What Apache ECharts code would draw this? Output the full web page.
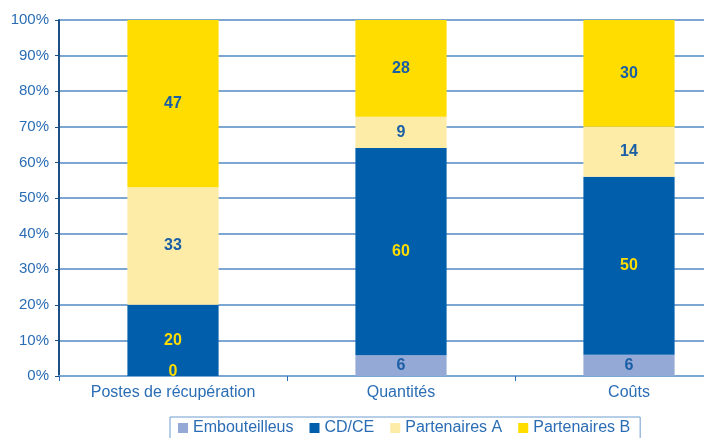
<!DOCTYPE html>
<html>
<head>
<meta charset="utf-8">
<script src="https://cdn.jsdelivr.net/npm/echarts@6/dist/echarts.min.js"></script>
<style>
  html, body { margin: 0; padding: 0; background: #fff; }
  #chart { width: 704px; height: 438px; }
</style>
</head>
<body>
<div id="chart"></div>
<script>
// categories and raw values (shown as labels); bars are stacked to 100%
const categories = ['Postes de récupération', 'Quantités', 'Coûts'];
const seriesNames = ['Embouteilleus', 'CD/CE', 'Partenaires A', 'Partenaires B'];
const embouteilleus = [0, 6, 6];
const cdce = [20, 60, 50];
const partenairesA = [33, 9, 14];
const partenairesB = [47, 28, 30];
const yTicks = [0, 10, 20, 30, 40, 50, 60, 70, 80, 90, 100];

const colors = ['#94A9D6', '#005EAA', '#FDEBA8', '#FFDD00'];
const labelColors = ['#1A5FA6', '#FFDD00', '#1A5FA6', '#1A5FA6'];
const textBlue = '#2A6DB4';
const font = 'Liberation Sans, Arial, sans-serif';

const allValues = [embouteilleus, cdce, partenairesA, partenairesB];
const totals = categories.map((c, i) => allValues.reduce((s, arr) => s + arr[i], 0));

// Function to build one stacked series
function makeSeries(name, values, idx) {
    return {
        name: name,
        type: 'bar',
        stack: 'total',
        barWidth: '40%',
        itemStyle: { color: colors[idx] },
        label: {
            show: true,
            position: 'inside',
            color: labelColors[idx],
            fontWeight: 'bold',
            fontSize: 16,
            fontFamily: font,
            formatter: p => values[p.dataIndex]
        },
        data: values.map((v, i) => {
            const item = { value: v / totals[i] * 100 };
            if (v === 0) {
                // the zero label sits at the bottom in yellow
                item.label = { position: 'insideBottom', color: '#FFDD00', distance: -4 };
            }
            return item;
        })
    };
}

const chart = echarts.init(document.getElementById('chart'));

chart.setOption({
    animation: false,
    // plot runs past the right edge of the picture
    grid: { left: 59, top: 20, width: 684, height: 356, outerBoundsMode: 'none', containLabel: false },
    legend: {
        data: seriesNames,
        top: 417,
        left: 170,
        itemWidth: 10,
        itemHeight: 10,
        itemGap: 16,
        icon: 'rect',
        padding: [3, 10, 14, 8],
        borderColor: '#6E9CCF',
        borderWidth: 1,
        textStyle: { color: textBlue, fontSize: 16, fontFamily: font }
    },
    xAxis: {
        type: 'category',
        data: categories,
        axisLine: { lineStyle: { color: '#7DA7D3', width: 2 } },
        axisTick: { show: true, lineStyle: { color: '#2A6DB4' }, length: 5 },
        axisLabel: { color: textBlue, fontSize: 16, fontFamily: font, margin: 9 }
    },
    yAxis: {
        type: 'value',
        min: 0,
        max: 100,
        interval: 10,
        axisLine: { show: true, lineStyle: { color: '#1B4F86', width: 2 } },
        axisTick: { show: true, length: 4, lineStyle: { color: '#1B4F86' } },
        axisLabel: {
            color: textBlue, fontSize: 15, fontFamily: font, margin: 10,
            formatter: v => yTicks.includes(v) ? v + '%' : ''
        },
        splitLine: { lineStyle: { color: '#7DA7D3', width: 2 } }
    },
    series: seriesNames.map((n, i) => makeSeries(n, allValues[i], i))
});
</script>
</body>
</html>
